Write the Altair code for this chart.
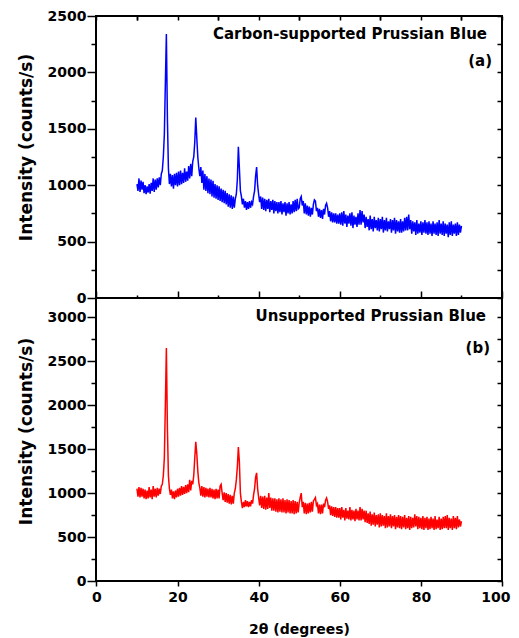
import altair as alt
import pandas as pd

# 2-theta scan: start and step of the recorded points (degrees)
SCAN_START = 10.0
SCAN_STEP = 0.25

# (a) Carbon-supported Prussian Blue, counts/s, 10.00 .. 90.00 deg
carbon_supported = [
    1010, 950, 1060, 940, 1040, 960, 1030, 930, 1000, 920, 990, 935, 1010, 925, 1020, 950, 1060, 940, 1050, 960,
    1060, 980, 1070, 1000, 1100, 1130, 1250, 1450, 1900, 2340, 1600, 1150, 1010, 1100, 990, 1090, 970, 1100, 1000, 1110,
    990, 1120, 1000, 1130, 1010, 1110, 1020, 1150, 1030, 1120, 1040, 1170, 1060, 1190, 1080, 1210, 1250, 1380, 1600, 1420,
    1250, 1150, 1080, 1160, 1020, 1130, 960, 1100, 950, 1080, 930, 1060, 920, 1050, 900, 1040, 890, 1010, 880, 1000,
    870, 990, 860, 970, 850, 960, 840, 950, 830, 930, 810, 920, 800, 910, 790, 900, 800, 880, 920, 1050,
    1340, 1150, 950, 900, 830, 880, 800, 860, 780, 850, 790, 860, 800, 850, 830, 900, 950, 1080, 1160, 1000,
    920, 850, 900, 790, 890, 780, 880, 770, 870, 790, 880, 760, 860, 780, 870, 750, 860, 770, 850, 750,
    850, 760, 860, 740, 840, 760, 850, 730, 840, 750, 850, 740, 830, 750, 860, 760, 870, 770, 880, 790,
    800, 880, 900, 820, 860, 750, 840, 740, 820, 730, 810, 720, 800, 740, 830, 870, 860, 770, 800, 720,
    790, 710, 780, 700, 790, 740, 820, 840, 800, 720, 770, 680, 760, 670, 750, 670, 750, 660, 740, 660,
    750, 650, 760, 640, 770, 660, 740, 630, 730, 660, 750, 640, 760, 620, 730, 650, 720, 630, 750, 650,
    780, 650, 770, 670, 740, 620, 720, 630, 700, 600, 730, 610, 700, 590, 720, 620, 690, 600, 710, 590,
    700, 610, 720, 580, 690, 600, 710, 590, 680, 610, 700, 580, 690, 600, 710, 570, 690, 590, 680, 580,
    700, 580, 680, 590, 710, 600, 720, 600, 740, 610, 690, 570, 680, 590, 670, 560, 690, 570, 660, 580,
    680, 560, 670, 580, 690, 570, 670, 560, 680, 570, 660, 550, 680, 570, 660, 560, 670, 550, 690, 570,
    660, 560, 680, 550, 660, 570, 650, 540, 670, 560, 680, 550, 650, 570, 660, 550, 670, 560, 650, 580,
    640,
]

# (b) Unsupported Prussian Blue, counts/s, 10.00 .. 90.00 deg
unsupported = [
    1050, 960, 1070, 950, 1060, 960, 1050, 940, 1040, 930, 1030, 940, 1070, 950, 1040, 930, 1080, 960, 1050, 950,
    1060, 970, 1050, 990, 1080, 1100, 1200, 1400, 2000, 2650, 1750, 1200, 1050, 980, 1040, 940, 1020, 930, 1030, 950,
    1050, 960, 1060, 970, 1080, 980, 1070, 990, 1090, 1000, 1100, 1010, 1150, 1030, 1140, 1100, 1200, 1400, 1585, 1450,
    1250, 1120, 1060, 970, 1080, 960, 1070, 950, 1060, 960, 1050, 950, 1060, 950, 1050, 940, 1040, 930, 1050, 940,
    1040, 940, 1080, 1100, 1000, 920, 1010, 900, 1000, 890, 990, 880, 980, 870, 970, 880, 1000, 1050, 1150, 1300,
    1525, 1350, 1000, 900, 830, 900, 840, 920, 850, 910, 840, 900, 850, 920, 880, 980, 1050, 1180, 1230, 1050,
    950, 860, 970, 830, 960, 820, 970, 810, 950, 820, 1000, 830, 950, 800, 940, 800, 940, 790, 930, 780,
    940, 790, 930, 780, 940, 780, 920, 770, 930, 780, 920, 770, 910, 770, 920, 760, 910, 770, 900, 780,
    890, 950, 1000, 840, 900, 770, 890, 760, 880, 770, 890, 780, 900, 790, 910, 930, 950, 860, 880, 770,
    870, 760, 870, 770, 880, 840, 920, 945, 900, 820, 860, 750, 850, 740, 840, 730, 840, 720, 830, 720,
    830, 700, 840, 720, 810, 690, 830, 710, 800, 700, 840, 690, 810, 700, 800, 680, 820, 700, 800, 690,
    840, 690, 820, 700, 800, 670, 800, 660, 770, 650, 790, 630, 760, 640, 780, 620, 750, 640, 760, 610,
    770, 620, 750, 630, 740, 600, 770, 610, 740, 620, 760, 600, 740, 620, 750, 590, 730, 610, 750, 600,
    740, 590, 730, 610, 750, 590, 720, 600, 740, 580, 730, 600, 720, 610, 760, 620, 740, 590, 730, 600,
    720, 590, 740, 580, 720, 600, 730, 580, 710, 590, 730, 600, 710, 580, 740, 590, 700, 600, 730, 580,
    710, 590, 730, 600, 740, 600, 750, 580, 720, 600, 710, 580, 740, 600, 720, 590, 740, 610, 700, 620,
    680,
]

two_theta = [round(SCAN_START + SCAN_STEP * i, 2) for i in range(len(carbon_supported))]

x_major = [0, 20, 40, 60, 80, 100]
x_minor = [10, 30, 50, 70, 90]
x_all = [0, 10, 20, 30, 40, 50, 60, 70, 80, 90, 100]
X_DOMAIN = [-0.1, 100]

top_major = [0, 500, 1000, 1500, 2000, 2500]
top_minor = [250, 750, 1250, 1750, 2250]
bot_major = [0, 500, 1000, 1500, 2000, 2500, 3000]
bot_minor = [250, 750, 1250, 1750, 2250, 2750]
TOP_MAX = 2500
BOT_MAX = 3220

label_a, tag_a = "Carbon-supported Prussian Blue", "(a)"
label_b, tag_b = "Unsupported Prussian Blue", "(b)"
x_title = "2θ (degrees)"
y_title = "Intensity (counts/s)"

FONT = "DejaVu Sans"
W = 406


def panel(values, color, ymax, ymaj, ymin, label, tag, H, bottom, lab_pos, tag_pos, title_y):
    df = pd.DataFrame({"t": two_theta, "v": values})
    xs = alt.Scale(domain=X_DOMAIN, nice=False, zero=False)
    ys = alt.Scale(domain=[0, ymax], nice=False)
    yall = sorted(ymaj + ymin)
    base = alt.Chart(df)

    if bottom:
        xa_major = alt.Axis(values=x_major, tickSize=5, labelPadding=4, title=x_title,
                            titlePadding=18, titleFontSize=14, format="d",
                            labelFlush=0.2, labelFlushOffset=8, labelOverlap=False)
        xa_minor = alt.Axis(values=x_minor, tickSize=3, labels=False, title=None)
        x_right = alt.X("t:Q", scale=xs, axis=None)
    else:
        xa_major = alt.Axis(values=x_major, tickSize=7, offset=-7, labels=False, title=None)
        xa_minor = alt.Axis(values=x_minor, tickSize=4, offset=-4, labels=False, title=None)
        x_right = alt.X("t:Q", scale=xs,
                        axis=alt.Axis(orient="top", values=x_all, tickSize=4, offset=-4,
                                      labels=False, title=None))

    line = base.mark_line(color=color, strokeWidth=1.5).encode(
        x=alt.X("t:Q", scale=xs, axis=xa_major),
        y=alt.Y("v:Q", scale=ys,
                axis=alt.Axis(orient="left", values=ymaj, tickSize=9, labelPadding=1,
                              title=y_title, titlePadding=12, titleFontSize=17,
                              titleY=title_y, format="d",
                              labelFlush=False, labelOverlap=False)),
    )
    minor = base.mark_line(strokeOpacity=0).encode(
        x=alt.X("t:Q", scale=xs, axis=xa_minor),
        y=alt.Y("v:Q", scale=ys,
                axis=alt.Axis(orient="left", values=ymin, tickSize=5, labels=False, title=None)),
    )
    right = base.mark_line(strokeOpacity=0).encode(
        x=x_right,
        y=alt.Y("v:Q", scale=ys,
                axis=alt.Axis(orient="right", values=yall, tickSize=5, offset=-5,
                              labels=False, title=None)),
    )
    txt = alt.Chart(pd.DataFrame({"s": [label]})).mark_text(
        align="right", baseline="alphabetic", font=FONT, fontWeight="bold",
        fontSize=15, color="black").encode(
        x=alt.value(lab_pos[0]), y=alt.value(lab_pos[1]), text="s:N")
    tg = alt.Chart(pd.DataFrame({"s": [tag]})).mark_text(
        align="right", baseline="alphabetic", font=FONT, fontWeight="bold",
        fontSize=15, color="black").encode(
        x=alt.value(tag_pos[0]), y=alt.value(tag_pos[1]), text="s:N")

    return alt.layer(line, minor, right, txt, tg).resolve_axis(
        x="independent", y="independent").properties(width=W, height=H)


top = panel(carbon_supported, "#0000FF", TOP_MAX, top_major, top_minor, label_a, tag_a,
            282, False, (391, 23), (396, 50), 131)
bot = panel(unsupported, "#FF0000", BOT_MAX, bot_major, bot_minor, label_b, tag_b,
            283, True, (390, 23), (394, 55), 133)

chart = alt.vconcat(top, bot, spacing=0, bounds="flush").properties(
    padding={"left": 8, "top": 0, "right": 0, "bottom": 0},
    background="white",
).configure_view(
    stroke="black", strokeWidth=2
).configure_axis(
    grid=False, domain=False, minExtent=0,
    labelFont=FONT, labelFontWeight="bold", labelFontSize=14, labelColor="black",
    titleFont=FONT, titleFontWeight="bold", titleColor="black",
    tickColor="black", tickWidth=1.5,
)

chart.save("out.html", embed_options={"renderer": "svg", "actions": False})
